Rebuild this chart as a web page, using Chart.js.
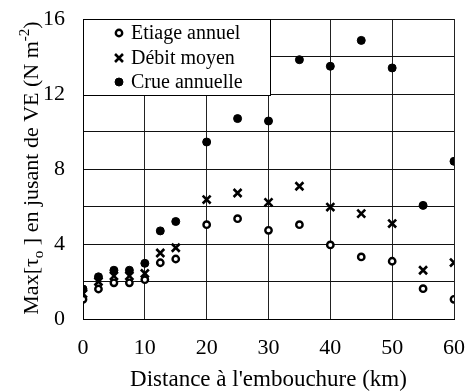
<!DOCTYPE html>
<html>
<head>
<meta charset="utf-8">
<script src="https://cdn.jsdelivr.net/npm/chart.js@4/dist/chart.umd.min.js"></script>
<style>
  body { margin: 0; background: #fff; }
  canvas { display: block; }
</style>
</head>
<body>
<canvas id="myChart" width="467" height="391"></canvas>
<script>
// distance from the mouth (km)
var distances = [0, 2.5, 5, 7.5, 10, 12.5, 15, 20, 25, 30, 35, 40, 45, 50, 55, 60];
// Max[tau_o] during ebb (N m-2)
var etiage = [1.05, 1.6, 1.93, 1.93, 2.1, 3.0, 3.2, 5.03, 5.35, 4.73, 5.03, 3.95, 3.31, 3.08, 1.62, 1.05];
var debit  = [1.35, 2.0, 2.3, 2.3, 2.43, 3.52, 3.8, 6.37, 6.72, 6.22, 7.08, 5.97, 5.62, 5.09, 2.6, 3.01];
var crue   = [1.6, 2.25, 2.6, 2.6, 2.97, 4.7, 5.2, 9.44, 10.69, 10.56, 13.83, 13.48, 14.86, 13.39, 6.06, 8.41];
var labels = ['Etiage annuel', 'Débit moyen', 'Crue annuelle'];

var serif = '"Liberation Serif", "Times New Roman", serif';

function pts(vals) {
    var out = [];
    for (var i = 0; i < distances.length; i++) {
        out.push({x: distances[i], y: vals[i]});
    }
    return out;
}

// legend box inside the plot, top left
var boxLegend = {
    id: 'boxLegend',
    afterDatasetsDraw: function(chart) {
        var ctx = chart.ctx;
        var a = chart.chartArea;
        var x0 = a.left, y0 = a.top, w = 187, h = 76;
        ctx.save();
        ctx.fillStyle = '#fff';
        ctx.fillRect(x0, y0, w, h);
        ctx.strokeStyle = '#000';
        ctx.lineWidth = 1;
        ctx.strokeRect(Math.round(x0) + 0.5, Math.round(y0) + 0.5, w, h);
        var rows = [33, 58, 82];
        ctx.font = '20px ' + serif;
        ctx.textBaseline = 'middle';
        ctx.textAlign = 'left';
        chart.data.datasets.forEach(function(ds, i) {
            ctx.fillStyle = ds.backgroundColor;
            ctx.strokeStyle = ds.borderColor;
            ctx.lineWidth = ds.borderWidth;
            Chart.helpers.drawPoint(ctx, {
                pointStyle: ds.pointStyle,
                radius: ds.pointRadius,
                borderWidth: ds.borderWidth,
                rotation: 0
            }, 119, rows[i]);
            ctx.fillStyle = '#000';
            ctx.fillText(ds.label, 131, rows[i] + 1);
        });
        ctx.restore();
    }
};

// y title with subscript and superscript
var yTitle = {
    id: 'yTitle',
    afterDraw: function(chart) {
        var ctx = chart.ctx;
        var parts = [
            {t: 'Max[\u03C4', s: 22, dy: 0},
            {t: 'o', s: 15, dy: 5},
            {t: ' ] en jusant de VE (N m', s: 22, dy: 0},
            {t: '-2', s: 15, dy: -9},
            {t: ')', s: 22, dy: 0}
        ];
        ctx.save();
        var total = 0;
        parts.forEach(function(p) {
            ctx.font = p.s + 'px ' + serif;
            p.w = ctx.measureText(p.t).width;
            total += p.w;
        });
        ctx.translate(38, 168 + total / 2);
        ctx.rotate(-Math.PI / 2);
        ctx.fillStyle = '#000';
        ctx.textBaseline = 'alphabetic';
        ctx.textAlign = 'left';
        var x = 0;
        parts.forEach(function(p) {
            ctx.font = p.s + 'px ' + serif;
            ctx.fillText(p.t, x, p.dy);
            x += p.w;
        });
        ctx.restore();
    }
};

var ctx = document.getElementById('myChart').getContext('2d');
var chart = new Chart(ctx, {
    type: 'scatter',
    data: {
        datasets: [{
            label: labels[0],
            data: pts(etiage),
            pointStyle: 'circle',
            pointRadius: 3.2,
            borderWidth: 2.4,
            borderColor: '#000',
            backgroundColor: '#fff'
        }, {
            label: labels[1],
            data: pts(debit),
            pointStyle: 'crossRot',
            pointRadius: 5.6,
            borderWidth: 2.6,
            borderColor: '#000',
            backgroundColor: '#000'
        }, {
            label: labels[2],
            data: pts(crue),
            pointStyle: 'circle',
            pointRadius: 4,
            borderWidth: 1,
            borderColor: '#000',
            backgroundColor: '#000'
        }]
    },
    options: {
        responsive: false,
        animation: false,
        layout: { padding: { top: 19, right: 13, left: 0, bottom: 0 } },
        plugins: {
            legend: { display: false },
            tooltip: { enabled: false }
        },
        scales: {
            x: {
                type: 'linear',
                min: 0,
                max: 60,
                afterFit: function(scale) {
                    scale.height = 72;
                    scale.paddingLeft = 0;
                    scale.paddingRight = 0;
                },
                ticks: {
                    stepSize: 10,
                    padding: 16,
                    color: '#000',
                    font: { family: serif, size: 22 }
                },
                grid: { color: '#222', lineWidth: 1, drawTicks: false },
                border: { color: '#000', width: 1 },
                title: {
                    display: true,
                    text: "Distance à l'embouchure (km)",
                    color: '#000',
                    padding: { top: 0, bottom: 0 },
                    font: { family: serif, size: 23, lineHeight: 1 }
                }
            },
            y: {
                min: 0,
                max: 16,
                afterFit: function(scale) {
                    scale.width = 83;
                    scale.paddingTop = 0;
                    scale.paddingBottom = 0;
                },
                ticks: {
                    stepSize: 1,
                    padding: 18,
                    color: '#000',
                    font: { family: serif, size: 22 },
                    callback: function(v) { return v % 4 === 0 ? v : ''; }
                },
                grid: { color: '#111', lineWidth: 1, drawTicks: false },
                border: { color: '#000', width: 1 }
            }
        }
    },
    plugins: [boxLegend, yTitle]
});
</script>
</body>
</html>
